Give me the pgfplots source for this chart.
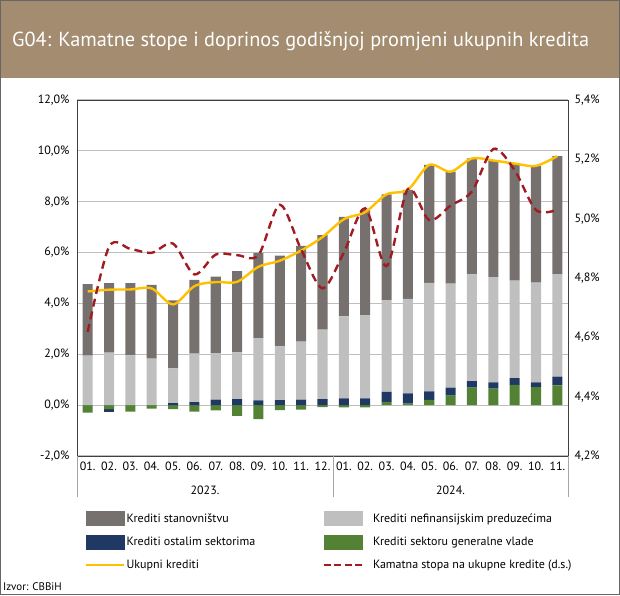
\documentclass[border=0pt]{standalone}
\usepackage{fontspec}
\setmainfont{PT Sans}
\usepackage{pgfplots}
\pgfplotsset{compat=1.18}
\usepackage{pgfplotstable}

\definecolor{banner}{RGB}{163,140,112}
\definecolor{hhcol}{RGB}{118,113,111}
\definecolor{entcol}{RGB}{191,191,191}
\definecolor{othcol}{RGB}{31,56,100}
\definecolor{govcol}{RGB}{84,130,53}
\definecolor{totcol}{RGB}{255,192,0}
\definecolor{ratecol}{RGB}{160,28,34}
\definecolor{gridcol}{RGB}{191,191,191}
\definecolor{axcol}{RGB}{64,64,64}

\pgfplotstableread{
x govp othp ent hh govn othn tot rate
1 0 0 1.95 2.81 -0.29 0 4.47 4.618
2 0 0 2.07 2.73 -0.16 -0.10 4.54 4.905
3 0 0 1.96 2.84 -0.25 0 4.55 4.898
4 0 0 1.83 2.90 -0.14 0 4.59 4.885
5 0 0.08 1.37 2.67 -0.16 0 3.96 4.916
6 0 0.12 1.91 2.90 -0.25 0 4.68 4.812
7 0 0.22 1.83 3.00 -0.21 0 4.84 4.879
8 0 0.24 1.84 3.19 -0.42 0 4.85 4.877
9 0 0.19 2.44 3.36 -0.55 0 5.44 4.877
10 0 0.20 2.11 3.57 -0.20 0 5.68 5.047
11 0 0.22 2.28 3.76 -0.18 0 6.08 4.896
12 0 0.24 2.73 3.72 -0.08 0 6.61 4.765
13 0 0.27 3.22 3.91 -0.09 0 7.31 4.886
14 0 0.27 3.27 4.14 -0.09 0 7.59 5.035
15 0.13 0.39 3.61 4.16 0 0 8.29 4.840
16 0.06 0.40 3.72 4.29 0 0 8.47 5.100
17 0.21 0.33 4.27 4.64 0 0 9.45 4.995
18 0.37 0.32 4.09 4.40 0 0 9.18 5.044
19 0.69 0.25 4.20 4.56 0 0 9.70 5.092
20 0.65 0.25 4.13 4.59 0 0 9.62 5.235
21 0.80 0.26 3.84 4.60 0 0 9.50 5.163
22 0.71 0.19 3.92 4.59 0 0 9.41 5.029
23 0.78 0.34 4.03 4.64 0 0 9.79 5.030
}\data

\pgfplotsset{
  base/.style={scale only axis, width=491pt, height=356pt,
    xmin=0.5, xmax=23.5, at={(77pt,139pt)}, anchor=south west,
    /pgf/number format/assume math mode=true,
    tick label style={font=\fontsize{12}{14}\selectfont}},
}

\begin{document}
\begin{tikzpicture}[x=1pt,y=1pt]
\useasboundingbox (0,0) rectangle (620,595);
\fill[banner] (0,517) rectangle (620,595);
\node[anchor=base west, text=white, font=\fontsize{20.3}{24}\selectfont, inner sep=0pt] at (12,548) {G04: Kamatne stope i doprinos godišnjoj promjeni ukupnih kredita};

% axis 1: frame, grid, labels, negative bars
\begin{axis}[base, ymin=-2, ymax=12, ybar stacked, bar width=0.47,
  axis line style={draw=axcol, line width=0.9pt},
  ytick={-2,0,2,4,6,8,10,12},
  yticklabel={\pgfmathprintnumber[fixed,fixed zerofill,precision=1,use comma]{\tick}\%},
  yticklabel style={xshift=-4pt},
  xtick={1,...,23},
  xticklabels={01.,02.,03.,04.,05.,06.,07.,08.,09.,10.,11.,12.,01.,02.,03.,04.,05.,06.,07.,08.,09.,10.,11.},
  xticklabel style={yshift=-2pt},
  major tick length=0pt,
  ymajorgrids, grid style={draw=gridcol, line width=1.1pt},
]
\addplot[fill=govcol, draw=none] table[x=x,y=govn]{\data};
\addplot[fill=othcol, draw=none] table[x=x,y=othn]{\data};
\end{axis}

% axis 2: positive bars
\begin{axis}[base, ymin=-2, ymax=12, hide axis, ybar stacked, bar width=0.47]
\addplot[fill=govcol, draw=none] table[x=x,y=govp]{\data};
\addplot[fill=othcol, draw=none] table[x=x,y=othp]{\data};
\addplot[fill=entcol, draw=none] table[x=x,y=ent]{\data};
\addplot[fill=hhcol, draw=none] table[x=x,y=hh]{\data};
\end{axis}

% axis 3: total line
\begin{axis}[base, ymin=-2, ymax=12, hide axis]
\addplot[totcol, line width=2.4pt, smooth, tension=0.5, no marks] table[x=x,y=tot]{\data};
\end{axis}

% axis 4: rate line, right axis, legend
\begin{axis}[base, ymin=4.2, ymax=5.4,
  axis y line*=right, axis x line=none,
  axis line style={draw=axcol, line width=0.9pt},
  ytick={4.2,4.4,4.6,4.8,5.0,5.2,5.4},
  yticklabel={\pgfmathprintnumber[fixed,fixed zerofill,precision=1,use comma]{\tick}\%},
  yticklabel style={xshift=3pt},
  major tick length=0pt,
  legend columns=2,
  legend style={at={(axis description cs:0.0163,-0.1546)}, anchor=north west,
    draw=none, fill=none, inner sep=0pt, row sep=9.5pt,
    font=\fontsize{12}{14}\selectfont,
    nodes={inner sep=1pt}},
  legend cell align=left,
]
\addlegendimage{legend image code/.code={\fill[hhcol] (0pt,-7pt) rectangle (38pt,7pt);}}
\addlegendentry{\makebox[195pt][l]{Krediti stanovništvu}}
\addlegendimage{legend image code/.code={\fill[entcol] (0pt,-7pt) rectangle (38pt,7pt);}}
\addlegendentry{\hspace{9pt}Krediti nefinansijskim preduzećima}
\addlegendimage{legend image code/.code={\fill[othcol] (0pt,-7pt) rectangle (38pt,7pt);}}
\addlegendentry{\makebox[195pt][l]{Krediti ostalim sektorima}}
\addlegendimage{legend image code/.code={\fill[govcol] (0pt,-7pt) rectangle (38pt,7pt);}}
\addlegendentry{\hspace{9pt}Krediti sektoru generalne vlade}
\addlegendimage{legend image code/.code={\draw[totcol, line width=2.4pt] (0pt,0pt) -- (38pt,0pt);}}
\addlegendentry{\makebox[195pt][l]{Ukupni krediti}}
\addplot[ratecol, line width=2.4pt, dash pattern=on 8pt off 5pt, smooth, tension=0.5, no marks,
  legend image code/.code={\draw[ratecol, line width=2.4pt, dash pattern=on 7pt off 3.5pt] (0pt,0pt) -- (38pt,0pt);}]
  table[x=x,y=rate]{\data};
\addlegendentry{\hspace{9pt}Kamatna stopa na ukupne kredite (d.s.)}
\end{axis}

% category separators and year labels
\draw[gray!70, line width=0.8pt] (77,139) -- (77,98);
\draw[gray!70, line width=0.8pt] (333.2,139) -- (333.2,98);
\draw[gray!70, line width=0.8pt] (568,139) -- (568,98);
\node[font=\fontsize{12}{14}\selectfont] at (205,105) {2023.};
\node[font=\fontsize{12}{14}\selectfont] at (450.5,105) {2024.};
\node[anchor=west, font=\fontsize{11}{13}\selectfont, inner sep=0pt] at (3,8) {Izvor: CBBiH};
\draw[gray!80!black, line width=1pt] (0.5,0.5) rectangle (619.5,594.5);
\end{tikzpicture}
\end{document}
